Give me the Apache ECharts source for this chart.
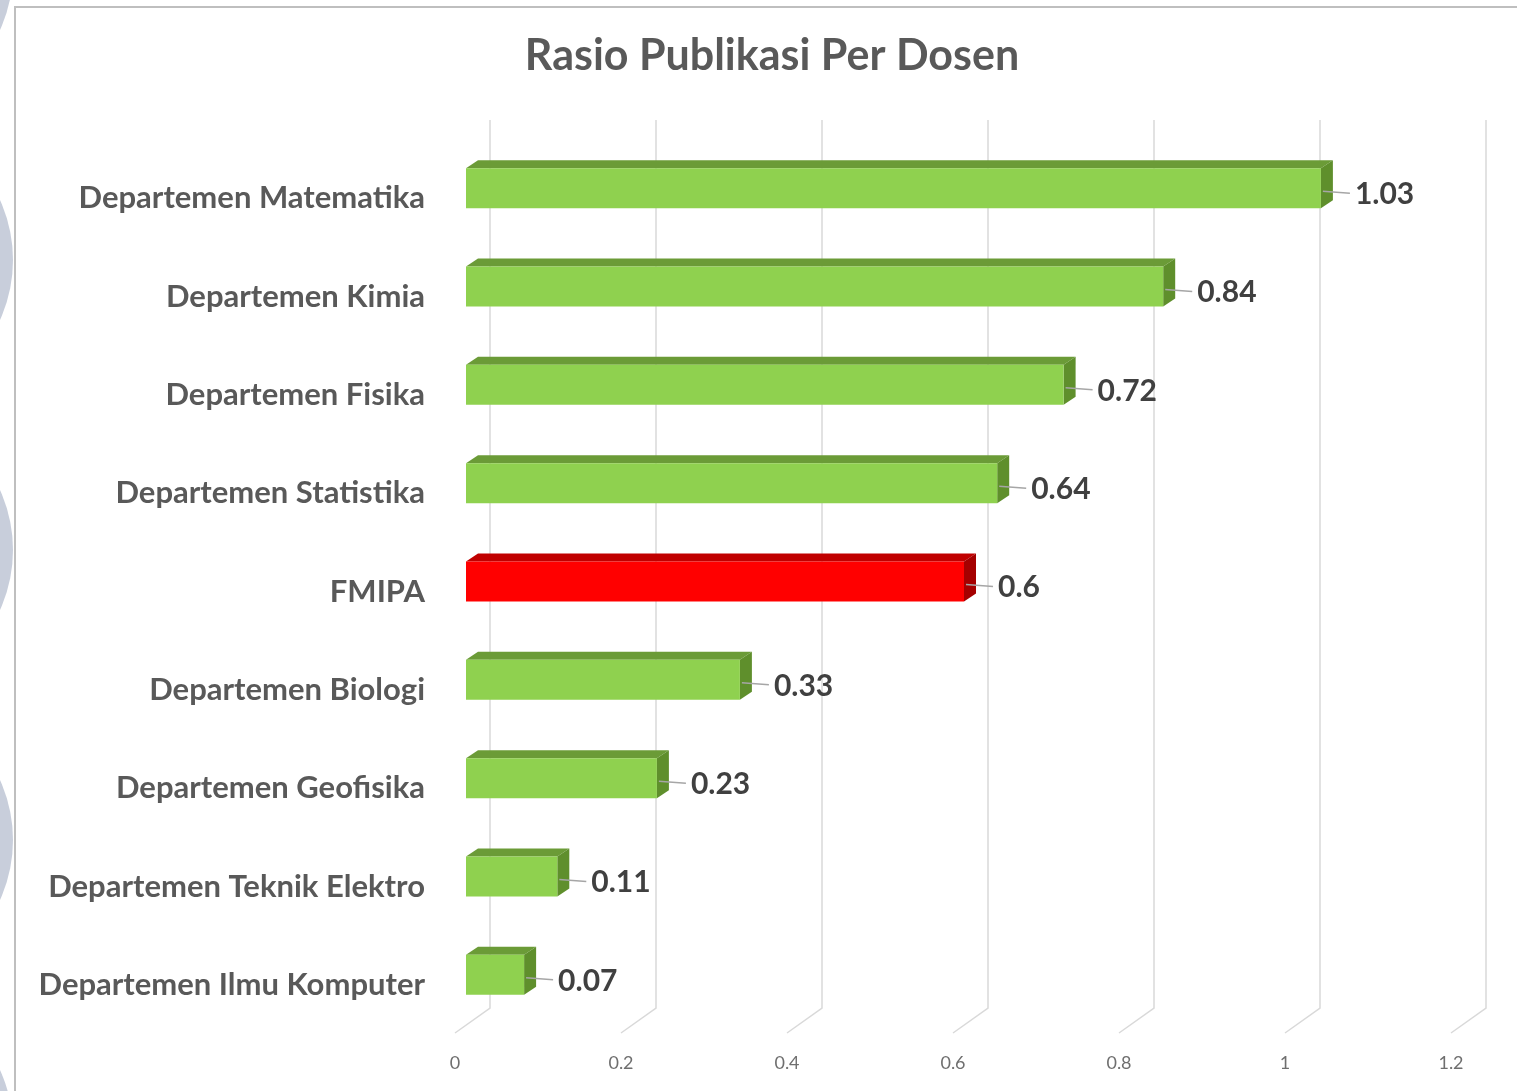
<!DOCTYPE html>
<html>
<head>
<meta charset="utf-8">
<script src="https://cdn.jsdelivr.net/npm/echarts@6/dist/echarts.min.js"></script>
<style>
  html, body { margin: 0; padding: 0; background: #fff; }
  #chart { width: 1517px; height: 1091px; }
</style>
</head>
<body>
<div id="chart"></div>
<script>
const titleText = "Rasio Publikasi Per Dosen";
const categories = [
  "Departemen Matematika",
  "Departemen Kimia",
  "Departemen Fisika",
  "Departemen Statistika",
  "FMIPA",
  "Departemen Biologi",
  "Departemen Geofisika",
  "Departemen Teknik Elektro",
  "Departemen Ilmu Komputer",
];
const ratios = [1.03, 0.84, 0.72, 0.64, 0.6, 0.33, 0.23, 0.11, 0.07];
const highlighted = "FMIPA";
const xTicks = [0, 0.2, 0.4, 0.6, 0.8, 1, 1.2];

const chart = echarts.init(document.getElementById("chart"));

// box depth of the fake 3d bars
const DX = 12;
const DY = -8;

function renderBar(params, api) {
  const cat = categories[api.value(1)];
  const end = api.coord([api.value(0), api.value(1)]);
  const start = api.coord([0, api.value(1)]);
  const h = 40;
  const x0 = start[0];
  const x1 = end[0];
  const yc = end[1];
  const yt = yc - h / 2;
  const yb = yc + h / 2;
  const red = cat === highlighted;
  const front = red ? "#ff0000" : "#8fd14f";
  const top = red ? "#c00000" : "#6b9b37";
  const side = red ? "#a50000" : "#5f8f2c";
  return {
    type: "group",
    children: [
      {
        type: "polygon",
        shape: { points: [[x0, yt], [x0 + DX, yt + DY], [x1 + DX, yt + DY], [x1, yt]] },
        style: { fill: top },
      },
      {
        type: "polygon",
        shape: { points: [[x1, yt], [x1 + DX, yt + DY], [x1 + DX, yb + DY], [x1, yb]] },
        style: { fill: side },
      },
      {
        type: "rect",
        shape: { x: x0, y: yt, width: x1 - x0, height: h },
        style: { fill: front },
      },
      {
        type: "line",
        shape: { x1: x1 + 2, y1: yc + 3, x2: x1 + 29, y2: yc + 5 },
        style: { stroke: "#a6a6a6", lineWidth: 1.5 },
      },
      {
        type: "text",
        x: x1 + 34,
        y: yc + 6,
        style: {
          text: String(api.value(0)),
          fill: "#404040",
          font: "bold 30px Lato",
          verticalAlign: "middle",
          align: "left",
        },
      },
    ],
  };
}

function renderGridLine(params, api) {
  const cs = params.coordSys;
  const x = api.coord([api.value(0), 0])[0];
  const top = cs.y;
  const bottom = cs.y + cs.height;
  return {
    type: "polyline",
    shape: {
      points: [
        [x + 24, top - 19],
        [x + 24, bottom - 16],
        [x - 11, bottom + 9],
      ],
    },
    style: { stroke: "#d9d9d9", lineWidth: 1.5, fill: null },
  };
}

const option = {
  backgroundColor: "#fff",
  animation: false,
  title: {
    text: titleText,
    left: 767,
    textAlign: "center",
    top: 30,
    textStyle: {
      fontFamily: "Lato",
      fontWeight: "bold",
      fontSize: 43,
      color: "#595959",
    },
  },
  graphic: [
    { type: "circle", shape: { cx: -132, cy: -30, r: 145 }, style: { fill: "#c8cedb" } },
    { type: "circle", shape: { cx: -132, cy: 260, r: 145 }, style: { fill: "#c8cedb" } },
    { type: "circle", shape: { cx: -132, cy: 550, r: 145 }, style: { fill: "#c8cedb" } },
    { type: "circle", shape: { cx: -132, cy: 840, r: 145 }, style: { fill: "#c8cedb" } },
    { type: "circle", shape: { cx: -132, cy: 1130, r: 145 }, style: { fill: "#c8cedb" } },
    {
      type: "polyline",
      shape: { points: [[15, 1091], [15, 7], [1517, 7]] },
      style: { stroke: "#bfbfbf", lineWidth: 2, fill: null },
    },
  ],
  grid: [
    { left: 466, top: 139, width: 996, height: 885 },
    // label-only grid, sits a little lower like the original's category text
    { left: 466, top: 149, width: 996, height: 885 },
  ],
  xAxis: [
    {
      type: "value",
      gridIndex: 0,
      min: 0,
      max: 1.2,
      interval: 0.2,
      axisLine: { show: false },
      axisTick: { show: false },
      splitLine: { show: false },
      axisLabel: {
        margin: 30,
        fontFamily: "Lato",
        fontSize: 18,
        color: "#6f6f6f",
        padding: [0, 22, 0, 0],
      },
    },
    {
      type: "value",
      gridIndex: 1,
      show: false,
    },
  ],
  yAxis: [
    {
      type: "category",
      gridIndex: 0,
      data: categories,
      inverse: true,
      axisLine: { show: false },
      axisTick: { show: false },
      splitLine: { show: false },
      axisLabel: { show: false },
    },
    {
      type: "category",
      gridIndex: 1,
      data: categories,
      inverse: true,
      axisLine: { show: false },
      axisTick: { show: false },
      splitLine: { show: false },
      axisLabel: {
        margin: 41,
        fontFamily: "Lato",
        fontWeight: "bold",
        fontSize: 31,
        color: "#595959",
      },
    },
  ],
  series: [
    {
      type: "custom",
      renderItem: renderGridLine,
      data: xTicks.map((v) => [v, 0]),
      encode: { x: 0, y: 1 },
      z: 1,
      silent: true,
    },
    {
      type: "custom",
      renderItem: renderBar,
      data: ratios.map((v, i) => [v, i]),
      encode: { x: 0, y: 1 },
      z: 2,
    },
  ],
};

chart.setOption(option);
</script>
</body>
</html>
